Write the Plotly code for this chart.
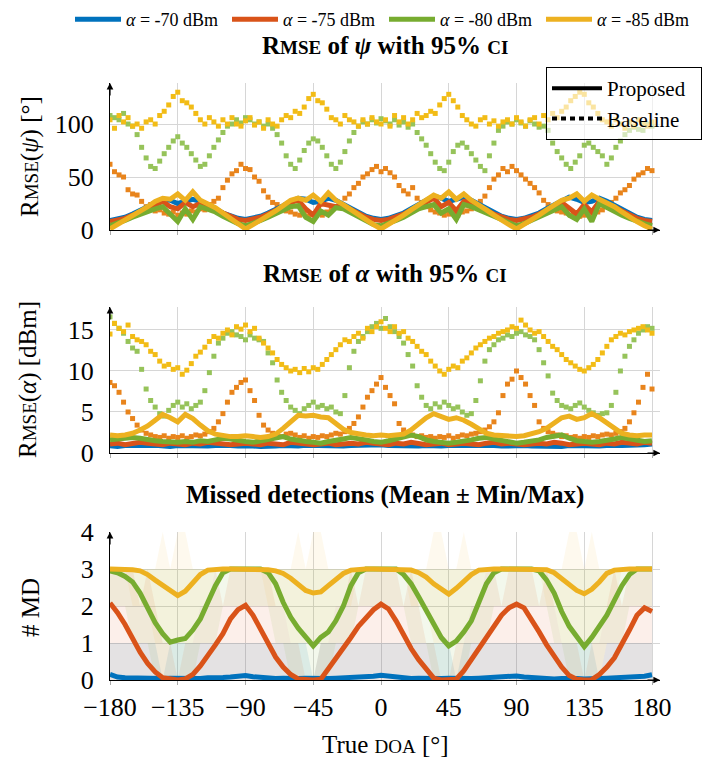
import plotly.graph_objects as go

# ---------------- data ----------------
DOA5 = list(range(-180, 181, 5))   # proposed curves (73 pts)
DOA3 = list(range(-180, 181, 3))   # baseline curves (121 pts)
XTICKS = [-180, -135, -90, -45, 0, 45, 90, 135, 180]
SERIES = ["α = -70 dBm", "α = -75 dBm", "α = -80 dBm", "α = -85 dBm"]

# RMSE psi [deg] - proposed
psi_prop_70 = [9,10,12,15,18,22,26,29,28,25,27,29,27,24,20,16,13,11,10,
               11,13,16,19,23,27,30,29,26,27,30,28,24,20,16,13,11,10,
               11,13,16,20,24,28,32,30,27,29,31,28,24,20,16,13,11,10,
               11,13,16,20,24,28,31,29,26,27,30,27,23,19,15,12,10,9]
psi_prop_75 = [8,9,11,14,17,21,24,27,22,20,26,22,25,22,19,15,12,10,9,
               10,12,15,18,22,26,28,20,14,25,24,22,23,19,15,12,10,9,
               10,12,15,19,23,27,30,22,26,18,27,26,23,19,15,12,10,9,
               10,12,15,18,22,26,20,15,24,17,27,25,22,18,14,11,9,8]
psi_prop_80 = [4,6,9,12,15,18,20,22,15,8,20,10,22,20,17,13,9,6,4,
               6,9,12,15,19,22,23,12,8,18,14,21,20,16,12,8,5,4,
               6,9,12,16,20,22,24,16,20,10,24,22,19,15,12,9,6,4,
               6,9,12,15,19,22,14,10,20,8,25,21,18,14,11,8,6,4]
psi_prop_85 = [1,5,9,13,17,22,27,30,29,34,28,36,28,25,21,16,11,6,1,
               5,9,13,18,23,28,30,28,33,27,35,28,24,19,14,9,5,1,
               5,9,14,19,24,29,33,30,36,29,34,28,24,19,14,9,5,1,
               5,9,14,19,24,28,30,34,27,33,29,26,22,17,12,8,4,1]

# RMSE psi [deg] - baseline
psi_base_75 = [62,55,52,50,38,34,33,27,22,24,18,19,16,15,17,14,16,15,18,17,20,19,24,27,30,40,47,53,56,62,58,
               57,50,46,37,31,26,24,20,18,17,15,14,16,13,15,16,14,17,19,22,25,30,34,40,44,50,53,57,60,55,
               58,54,50,42,37,34,40,30,26,22,19,17,16,14,15,16,14,17,18,20,23,27,32,40,48,52,58,55,60,56,
               52,48,44,40,35,28,24,21,18,17,16,14,15,13,14,16,15,17,19,22,26,30,35,38,42,48,52,54,58,56]
psi_base_80 = [108,106,104,110,100,98,90,78,68,60,58,65,72,78,84,88,82,78,72,66,60,62,70,78,85,92,98,100,104,101,106,
               104,100,102,98,100,96,90,82,70,62,58,66,75,82,86,84,78,70,62,58,64,74,84,92,98,102,100,104,101,105,
               103,100,104,99,102,97,100,92,86,80,72,64,58,56,64,74,80,82,78,72,66,60,56,70,82,94,98,102,100,104,
               101,98,103,100,97,98,94,82,74,68,62,58,64,70,80,82,78,74,70,62,68,78,84,90,94,97,95,94,100,98]
psi_base_85 = [104,96,108,102,106,98,100,96,102,104,100,108,112,118,126,130,122,120,116,110,104,100,106,102,98,104,100,106,100,98,103,
               106,99,102,96,104,100,98,104,108,106,112,110,116,124,128,122,120,114,106,104,100,108,104,102,98,104,100,106,102,100,
               104,98,108,102,106,100,104,110,106,108,112,110,118,124,128,122,116,108,104,100,98,104,106,100,103,98,102,104,100,106,
               102,98,104,106,100,108,104,110,106,112,116,122,126,130,128,120,116,110,104,102,98,104,100,96,102,98,104,100,98,102]

# RMSE alpha [dBm] - proposed
alp_prop_70 = [0.9,0.8,0.9,0.85,0.8,0.9,0.95,0.85,0.8,0.9,0.85,0.9,0.8,0.85,0.9,0.95,0.9,0.85,0.9,
               0.85,0.8,0.9,0.85,0.9,0.8,0.85,0.95,0.9,0.85,0.8,0.9,0.85,0.9,0.95,0.85,0.9,1.0,
               0.9,0.85,0.8,0.9,0.85,0.9,0.8,0.85,0.9,0.85,0.8,0.9,0.95,0.85,0.9,0.85,0.9,0.95,
               0.9,0.85,0.8,0.9,0.85,0.8,0.9,0.85,0.9,0.8,0.85,0.9,0.85,0.9,0.95,0.9,1.0,1.1]
alp_prop_75 = [1.1,1.2,1.0,1.1,1.3,1.2,1.1,1.0,1.2,1.1,1.0,1.2,1.1,1.3,1.2,1.1,1.0,1.1,1.2,
               1.1,1.0,1.2,1.1,1.0,1.3,1.2,1.1,1.0,1.1,1.2,1.0,1.1,1.2,1.1,1.3,1.2,1.1,
               1.0,1.2,1.1,1.3,1.2,1.0,1.1,1.2,1.0,1.1,1.2,1.1,1.0,1.2,1.3,1.1,1.2,1.1,
               1.0,1.1,1.2,1.1,1.3,1.2,1.0,1.1,1.2,1.1,1.0,1.2,1.1,1.3,1.2,1.1,1.3,1.2]
alp_prop_80 = [1.6,1.7,1.8,1.9,1.8,1.6,1.5,1.4,1.3,1.3,1.4,1.3,1.5,1.4,1.6,1.8,1.7,1.5,1.4,
               1.3,1.5,1.6,1.8,2.0,1.7,1.5,1.4,1.3,1.2,1.4,1.5,1.7,1.9,1.8,1.6,1.4,1.3,
               1.5,1.7,1.9,2.2,2.0,1.6,1.4,1.3,1.2,1.3,1.4,1.6,1.8,1.9,1.7,1.5,1.3,1.2,
               1.3,1.4,1.6,1.9,2.1,2.2,1.8,1.5,1.4,1.3,1.4,1.5,1.7,1.9,1.7,1.5,1.4,1.5]
alp_prop_85 = [2.2,2.1,2.2,2.4,2.8,3.3,4.0,4.7,4.3,3.8,4.7,4.2,3.4,2.7,2.3,2.1,2.0,2.0,2.1,
               2.0,1.9,2.0,2.3,3.0,3.9,4.6,4.5,4.6,4.4,4.3,3.6,2.9,2.5,2.3,2.2,2.1,2.2,
               2.1,2.2,2.3,2.8,3.5,4.3,4.8,4.4,4.1,4.3,4.0,3.5,2.9,2.4,2.2,2.1,2.0,2.0,
               2.1,2.3,2.6,3.0,3.6,4.3,4.5,4.1,4.3,4.8,4.3,3.7,3.0,2.4,2.2,2.1,2.2,2.2]

# RMSE alpha [dBm] - baseline
alp_base_75 = [8.6,8.2,7.4,6.2,5.0,4.2,3.4,2.8,2.4,2.2,2.0,1.9,2.1,1.8,2.0,1.9,2.1,1.8,2.0,2.2,2.1,2.3,2.6,3.0,3.8,4.8,6.2,7.4,8.0,8.6,8.9,
               7.6,6.4,4.6,3.4,2.8,2.4,2.2,2.0,2.3,2.4,2.2,1.9,2.1,1.8,2.0,1.9,2.1,2.0,2.2,2.4,2.3,2.6,3.0,3.6,4.4,5.6,6.8,7.6,8.4,9.2,
               8.0,7.0,6.0,3.6,2.8,2.4,2.2,2.0,2.1,1.9,2.0,1.8,2.0,1.9,2.1,1.8,2.0,2.2,2.1,2.3,2.4,2.6,2.8,3.2,3.8,4.9,7.0,8.4,9.0,10.0,
               9.2,8.4,7.0,5.8,3.8,3.0,2.6,2.4,2.2,2.0,2.1,1.9,2.0,1.8,2.0,1.9,2.1,2.0,2.2,2.3,2.2,2.4,2.6,3.0,3.8,4.9,6.2,8.0,9.6,7.8]
alp_base_80 = [16.6,15.8,15.2,14.6,13.6,12.8,12.4,10.2,7.8,6.4,5.6,4.8,4.5,5.2,5.8,6.2,5.6,6.0,5.4,5.8,6.2,7.6,9.8,11.8,13.4,14.0,14.6,14.8,14.4,14.2,13.8,
               14.4,14.0,13.8,13.6,12.2,11.0,8.9,7.4,6.4,5.6,5.2,4.8,5.4,5.8,6.2,5.6,5.8,5.4,5.6,5.0,4.8,7.0,10.4,12.4,13.6,14.2,14.8,15.4,15.8,15.2,
               16.4,15.4,14.8,14.2,13.4,12.0,10.6,8.2,6.8,5.8,5.4,6.0,5.6,6.2,5.8,5.4,5.6,5.0,4.6,4.8,6.4,8.8,11.2,12.6,13.2,13.8,14.0,14.4,14.2,14.6,
               14.8,14.4,14.2,13.8,12.6,11.0,9.4,7.3,6.4,5.8,5.6,5.4,5.8,6.1,5.6,5.2,4.9,4.6,4.8,4.9,5.8,7.4,10.0,11.8,13.0,13.8,14.6,15.0,15.4,15.2]
alp_base_85 = [14.5,15.8,15.2,14.8,15.6,14.2,13.8,13.6,13.2,12.4,12.0,11.2,10.6,10.8,10.2,10.4,9.6,10.1,10.9,11.8,12.3,12.9,13.6,14.2,14.0,14.6,15.0,14.4,15.4,15.1,15.6,
               14.8,15.2,14.0,13.4,12.8,12.2,11.4,10.8,10.4,10.0,10.2,9.8,10.3,9.9,10.4,10.2,10.8,11.4,12.0,12.6,13.2,13.8,13.6,14.2,14.6,14.0,15.2,14.8,15.4,16.0,
               15.2,14.8,15.4,14.6,14.8,14.0,13.6,13.0,12.4,12.0,11.2,10.6,10.0,9.6,10.2,10.6,10.4,11.2,11.6,12.2,12.8,13.2,13.6,14.0,14.2,14.6,14.8,15.0,15.4,15.2,
               16.2,15.6,15.0,14.6,14.8,14.2,13.6,13.0,12.6,12.0,11.4,11.0,10.6,10.2,10.0,10.4,10.8,11.4,12.2,13.0,13.8,14.2,14.6,14.4,14.8,15.0,15.2,15.4,15.0,14.6]

# Missed detections: mean, min, max
md_mean_70 = [0.15,0.08,0.06,0.05,0.04,0.05,0.03,0.04,0.05,0.04,0.03,0.05,0.04,0.06,0.05,0.07,0.08,0.1,0.12,
              0.09,0.07,0.05,0.04,0.05,0.03,0.04,0.05,0.04,0.03,0.04,0.05,0.06,0.05,0.07,0.08,0.1,0.13,
              0.1,0.07,0.05,0.04,0.05,0.04,0.03,0.04,0.05,0.04,0.03,0.04,0.05,0.06,0.05,0.07,0.09,0.11,
              0.08,0.06,0.05,0.04,0.03,0.04,0.05,0.04,0.03,0.05,0.04,0.05,0.06,0.05,0.07,0.08,0.1,0.14]
md_mean_75 = [2.08,1.82,1.5,1.1,0.75,0.45,0.22,0.06,0.02,0.0,0.03,0.15,0.38,0.65,0.95,1.25,1.65,1.9,2.02,
              1.75,1.35,0.95,0.62,0.35,0.15,0.03,0.0,0.0,0.02,0.3,0.55,0.85,1.15,1.45,1.7,1.9,2.05,
              1.92,1.6,1.22,0.85,0.55,0.3,0.05,0.0,0.0,0.02,0.25,0.55,0.85,1.15,1.5,1.75,1.95,2.05,
              1.95,1.65,1.3,0.95,0.65,0.35,0.12,0.02,0.0,0.01,0.15,0.35,0.6,0.95,1.35,1.75,1.95,1.85]
md_mean_80 = [2.95,2.9,2.8,2.65,2.35,1.95,1.55,1.25,1.02,1.08,1.12,1.35,1.65,2.1,2.55,2.9,3.0,3.0,3.0,
              3.0,3.0,2.9,2.6,2.1,1.7,1.4,1.15,0.92,1.15,1.3,1.6,2.0,2.55,2.9,3.0,3.0,3.0,
              3.0,3.0,2.85,2.6,2.25,1.9,1.5,1.15,0.92,1.05,1.3,1.6,2.1,2.6,2.9,3.0,3.0,3.0,
              3.0,3.0,2.95,2.7,2.35,1.85,1.45,1.15,0.9,1.15,1.45,1.75,2.15,2.55,2.85,3.0,3.0,3.0]
md_mean_85 = [3.0,3.0,3.0,2.98,2.95,2.85,2.7,2.55,2.4,2.28,2.4,2.62,2.85,2.97,3.0,3.0,3.0,3.0,3.0,
              3.0,3.0,2.98,2.95,2.88,2.75,2.6,2.42,2.35,2.38,2.55,2.7,2.88,2.97,3.0,3.0,3.0,3.0,
              3.0,3.0,3.0,2.97,2.9,2.78,2.6,2.45,2.32,2.48,2.65,2.85,2.97,3.0,3.0,3.0,3.0,3.0,
              3.0,3.0,3.0,2.98,2.9,2.75,2.58,2.42,2.33,2.45,2.65,2.88,2.97,3.0,3.0,3.0,3.0,3.0]
md_max_70 = [1,1,1,1,1,1,1,0,1,1,1,1,1,1,1,1,1,1,1,
             1,1,1,1,1,1,1,1,0,1,1,1,1,1,1,1,1,1,
             1,1,1,1,1,1,1,1,1,0,1,1,1,1,1,1,1,1,
             1,1,1,1,1,1,1,1,1,1,0,1,1,1,1,1,1,1]
md_max_75 = [3,3,3,3,2,3,2,1,1,0,1,1,2,2,3,2,3,3,3,
             3,3,3,2,2,1,1,0,0,1,1,2,2,3,2,3,3,3,
             3,3,2,3,2,1,1,0,0,1,1,2,2,3,3,2,3,3,
             3,3,2,3,2,1,1,1,0,1,1,2,3,2,3,3,3,3]
md_min_80 = [2,2,2,1,1,1,0,0,0,0,0,0,1,1,1,2,2,2,2,
             2,2,2,1,1,0,0,0,0,0,0,1,1,1,2,2,2,2,
             2,2,2,1,1,1,0,0,0,0,0,1,1,1,2,2,2,2,
             2,2,2,2,1,1,0,0,0,0,0,1,1,1,2,2,2,2]
md_max_80 = [3,3,3,3,3,3,3,3,3,3,3,3,3,3,3,3,3,3,3,
             3,3,3,3,3,3,3,3,3,3,3,3,3,3,3,3,3,3,
             3,3,3,3,3,3,3,3,3,3,3,3,3,3,3,3,3,3,
             3,3,3,3,3,3,3,3,3,3,3,3,3,3,3,3,3,3]
md_min_85 = [3,3,3,2,2,2,1,1,1,1,1,1,2,2,3,3,3,3,3,
             3,3,2,2,2,1,1,1,1,1,1,2,2,2,3,3,3,3,
             3,3,3,2,2,2,1,1,1,1,1,2,2,3,3,3,3,3,
             3,3,3,2,2,1,1,1,1,1,1,2,2,3,3,3,3,3]
md_max_85 = [3,3,3,3,3,3,3,4,3,4,4,3,3,3,3,3,3,3,3,
             3,3,3,3,3,3,4,3,4,4,3,3,3,3,3,3,3,3,
             3,3,3,3,3,3,4,4,3,3,4,3,3,3,3,3,3,3,
             3,3,3,3,3,3,4,4,3,4,3,3,3,3,3,3,3,3]

for arr in [psi_prop_70, psi_prop_75, psi_prop_80, psi_prop_85, alp_prop_70, alp_prop_75,
            alp_prop_80, alp_prop_85, md_mean_70, md_mean_75, md_mean_80, md_mean_85,
            md_max_70, md_max_75, md_min_80, md_max_80, md_min_85, md_max_85]:
    assert len(arr) == len(DOA5), len(arr)
for arr in [psi_base_75, psi_base_80, psi_base_85, alp_base_75, alp_base_80, alp_base_85]:
    assert len(arr) == len(DOA3), len(arr)

# ---------------- style ----------------
C = ["#0072BD", "#D95319", "#77AC30", "#EDB120"]
CB = {"75": "#E8841C", "80": "#96C35A", "85": "#F2BC16"}
FILL = ["rgba(0,114,189,0.10)", "rgba(217,83,25,0.09)", "rgba(119,172,48,0.09)", "rgba(237,177,32,0.08)"]
FONT = "Liberation Serif"
W, H = 718, 760
ML, MR, MT, MB = 110, 58, 20, 0

def pxx(px):
    return (px - ML) / (W - ML - MR)

def pxy(py):
    return 1 - (py - MT) / (H - MT - MB)

fig = go.Figure()

def line(x, y, color, width, xa, ya):
    fig.add_trace(go.Scatter(x=x, y=y, mode="lines", line=dict(color=color, width=width),
                             xaxis=xa, yaxis=ya, showlegend=False, hoverinfo="skip"))

def dots(x, y, color, xa, ya):
    fig.add_trace(go.Scatter(x=x, y=y, mode="markers",
                             marker=dict(symbol="square", size=5, color=color, line=dict(width=0)),
                             xaxis=xa, yaxis=ya, showlegend=False, hoverinfo="skip"))

# plot 1
dots(DOA3, psi_base_80, CB["80"], "x", "y")
dots(DOA3, psi_base_85, CB["85"], "x", "y")
dots(DOA3, psi_base_75, CB["75"], "x", "y")
for arr, c in zip([psi_prop_70, psi_prop_75, psi_prop_80, psi_prop_85], C):
    line(DOA5, arr, c, 5, "x", "y")

# plot 2
dots(DOA3, alp_base_80, CB["80"], "x2", "y2")
dots(DOA3, alp_base_85, CB["85"], "x2", "y2")
dots(DOA3, alp_base_75, CB["75"], "x2", "y2")
for arr, c in zip([alp_prop_70, alp_prop_75, alp_prop_80, alp_prop_85], C):
    line(DOA5, arr, c, 5, "x2", "y2")

# plot 3 bands
for mx, f in [(md_max_70, FILL[0]), (md_max_75, FILL[1])]:
    fig.add_trace(go.Scatter(x=DOA5, y=mx, mode="lines", line=dict(width=0), fill="tozeroy",
                             fillcolor=f, xaxis="x3", yaxis="y3", showlegend=False, hoverinfo="skip"))
for mn, mx, f in [(md_min_80, md_max_80, FILL[2]), (md_min_85, md_max_85, FILL[3])]:
    fig.add_trace(go.Scatter(x=DOA5, y=mn, mode="lines", line=dict(width=0),
                             xaxis="x3", yaxis="y3", showlegend=False, hoverinfo="skip"))
    fig.add_trace(go.Scatter(x=DOA5, y=mx, mode="lines", line=dict(width=0), fill="tonexty",
                             fillcolor=f, xaxis="x3", yaxis="y3", showlegend=False, hoverinfo="skip"))
for arr, c in zip([md_mean_70, md_mean_75, md_mean_80, md_mean_85], C):
    line(DOA5, arr, c, 5, "x3", "y3")

# legends
for name, c in zip(SERIES, C):
    fig.add_trace(go.Scatter(x=[None], y=[None], mode="lines", line=dict(color=c, width=5),
                             name=name.replace("α", "<i>α</i>"), legend="legend"))
fig.add_trace(go.Scatter(x=[None], y=[None], mode="lines", line=dict(color="black", width=4),
                         name="Proposed&nbsp;&nbsp;", legend="legend2"))
fig.add_trace(go.Scatter(x=[None], y=[None], mode="lines", line=dict(color="black", width=4, dash="5px,4px"),
                         name="Baseline", legend="legend2"))

GRID = "#d6d6d6"
TICKFONT = dict(family=FONT, size=26, color="black")

def xax(domain_anchor, show):
    return dict(range=[-180, 185.3], tickvals=XTICKS, showticklabels=show, showgrid=True,
                gridcolor=GRID, gridwidth=1, zeroline=False, showline=True, linecolor="black",
                linewidth=1, ticks="outside", ticklen=4, tickcolor="#aaaaaa",
                anchor=domain_anchor, tickfont=TICKFONT, ticklabelstandoff=0,
                automargin=False, fixedrange=True)

def yax(dom, rng, tv):
    return dict(domain=dom, range=rng, tickvals=tv, showgrid=True, gridcolor=GRID, gridwidth=1,
                zeroline=False, showline=True, linecolor="black", linewidth=1, ticks="",
                tickfont=TICKFONT, ticklabelstandoff=10, automargin=False, fixedrange=True)

sm = "<span style='font-size:19px'>"
annotations = [
    dict(text="<b>R" + sm + "MSE</span> of <i>ψ</i> with 95% " + sm + "CI</span></b>",
         x=0.5, y=pxy(46), font=dict(size=25)),
    dict(text="<b>R" + sm + "MSE</span> of <i>α</i> with 95% " + sm + "CI</span></b>",
         x=0.5, y=pxy(273), font=dict(size=25)),
    dict(text="<b>Missed detections (Mean ± Min/Max)</b>", x=0.5, y=pxy(495), font=dict(size=25)),
    dict(text="R" + sm + "MSE</span>(<i>ψ</i>) [°]", x=pxx(30), y=pxy(157),
         textangle=-90, font=dict(size=25)),
    dict(text="R" + sm + "MSE</span>(<i>α</i>) [dBm]", x=pxx(28), y=pxy(380),
         textangle=-90, font=dict(size=25)),
    dict(text="# MD", x=pxx(30), y=pxy(608), textangle=-90, font=dict(size=25)),
    dict(text="True " + sm + "DOA</span> [°]", x=0.5, y=pxy(744), font=dict(size=25)),
]
for a in annotations:
    a.update(xref="paper", yref="paper", showarrow=False, xanchor="center", yanchor="middle")
    a["font"].update(family=FONT, color="black")

# axis arrows
for xa, ya in [("x", "y"), ("x2", "y2"), ("x3", "y3")]:
    annotations.append(dict(x=1, y=0, xref=xa + " domain", yref=ya + " domain", ax=-14, ay=0,
                            text="", showarrow=True, arrowhead=2, arrowsize=1.1, arrowwidth=1.2,
                            arrowcolor="black", standoff=0))
    annotations.append(dict(x=0, y=1, xref=xa + " domain", yref=ya + " domain", ax=0, ay=14,
                            text="", showarrow=True, arrowhead=2, arrowsize=1.1, arrowwidth=1.2,
                            arrowcolor="black", standoff=0))

fig.update_layout(
    width=W, height=H, margin=dict(l=ML, r=MR, t=MT, b=MB, autoexpand=False),
    paper_bgcolor="white", plot_bgcolor="white",
    font=dict(family=FONT, color="black"),
    xaxis=xax("y", False), xaxis2=xax("y2", False), xaxis3=xax("y3", True),
    yaxis=yax([pxy(230), pxy(83)], [0, 138.7], [0, 50, 100]),
    yaxis2=yax([pxy(453), pxy(307)], [0, 17.8], [0, 5, 10, 15]),
    yaxis3=yax([pxy(680), pxy(532)], [0, 4], [0, 1, 2, 3, 4]),
    legend=dict(orientation="h", x=pxx(70), xanchor="left",
                y=pxy(1), yanchor="top", traceorder="normal",
                font=dict(family=FONT, size=18, color="black"), itemwidth=46,
                entrywidth=96, entrywidthmode="pixels", bgcolor="rgba(0,0,0,0)"),
    legend2=dict(x=pxx(546), y=pxy(67), xanchor="left", yanchor="top", traceorder="normal",
                 font=dict(family=FONT, size=21, color="black"), itemwidth=50,
                 bordercolor="black", borderwidth=1, bgcolor="rgba(255,255,255,0.6)"),
    annotations=annotations,
)

fig.write_html("out.html")
